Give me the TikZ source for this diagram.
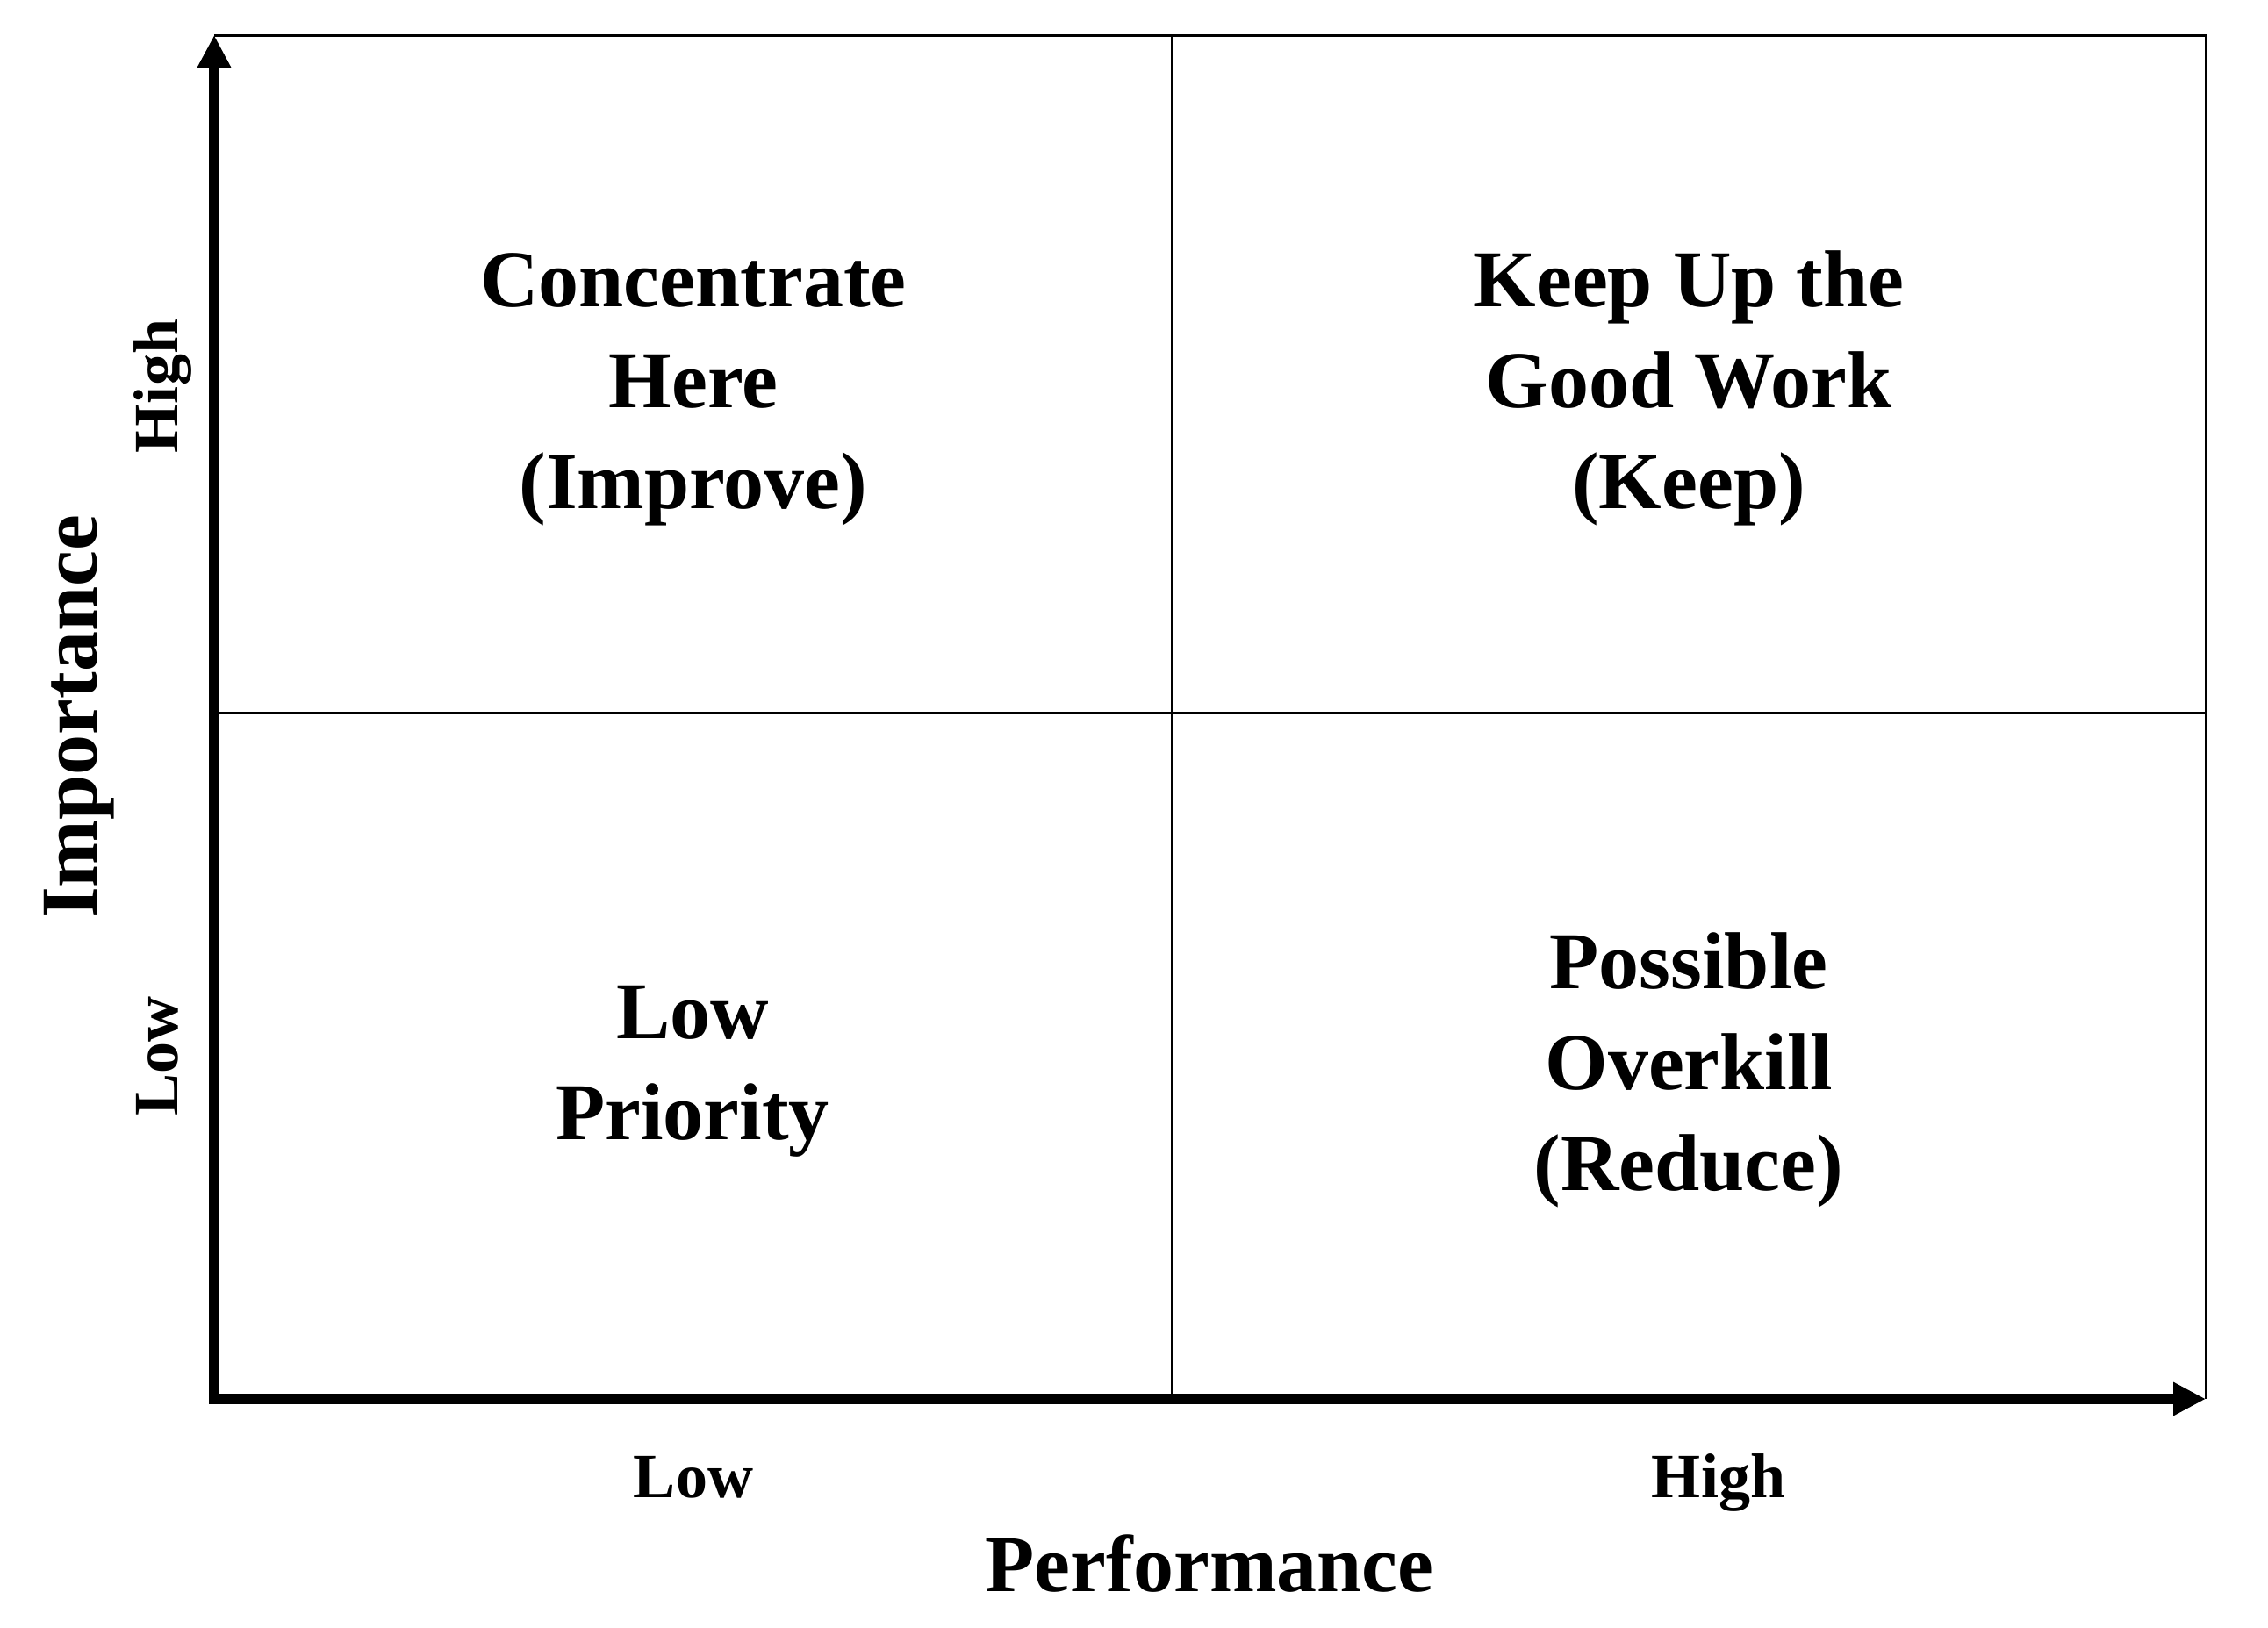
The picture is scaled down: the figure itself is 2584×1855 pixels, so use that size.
\documentclass[tikz,border=0pt]{standalone}
\usepackage{fontspec}
\setmainfont{Liberation Serif}
\usetikzlibrary{arrows.meta}
\begin{document}
\begin{tikzpicture}[x=1pt,y=-1pt,
  thinline/.style={line width=3pt, black},
  axes/.style={line width=12pt, black, line join=miter,
    {Triangle[width=36pt,length=37pt]}-{Triangle[width=36pt,length=37pt]}},
  quad/.style={font=\bfseries\fontsize{92}{115}\selectfont, align=center, anchor=base, inner sep=0pt},
  ticklabel/.style={font=\bfseries\fontsize{72}{86}\selectfont, anchor=base, inner sep=0pt},
  axlabel/.style={font=\bfseries\fontsize{92}{115}\selectfont, anchor=base, inner sep=0pt}]
\useasboundingbox (0,0) rectangle (2584,1855);
\fill[white] (0,0) rectangle (2584,1855);
\coordinate (O) at (244,1594);
\coordinate (T) at (244,40);
\coordinate (R) at (2513,1594);
\coordinate (TR) at (2513,40);
\coordinate (MT) at (1335,40);
\coordinate (MB) at (1335,1594);
\coordinate (ML) at (244,812);
\coordinate (MR) at (2513,812);
% frame and dividers
\draw[thinline] (T) -- (TR) -- (R);
\draw[thinline] (MT) -- (MB);
\draw[thinline] (ML) -- (MR);
% axes
\draw[axes] (T) -- (O) -- (R);
% quadrant texts (anchor base = baseline of last line)
\node[quad] (q1) at (790,579) {Concentrate\\Here\\(Improve)};
\node[quad] (q2) at (1924,579) {Keep Up the\\Good Work\\(Keep)};
\node[quad] (q3) at (789,1298) {Low\\Priority};
\node[quad] (q4) at (1924,1356) {Possible\\Overkill\\(Reduce)};
% axis labels
\node[ticklabel] (xlow) at (790,1706) {Low};
\node[ticklabel] (xhigh) at (1958,1706) {High};
\node[axlabel] (xlab) at (1378,1813) {Performance};
\node[ticklabel, rotate=90] (ylow) at (202,1203) {Low};
\node[ticklabel, rotate=90] (yhigh) at (202,440) {High};
\node[axlabel, rotate=90] (ylab) at (110,817) {Importance};
\end{tikzpicture}
\end{document}
